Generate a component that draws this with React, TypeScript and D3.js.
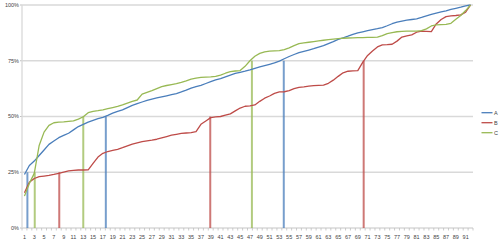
import React from "react";
import * as d3 from "d3";

const seriesNames = ["A", "B", "C"];
const seriesColors = ["#4A7EBB", "#BE4B48", "#98B954"];

const seriesA = [24, 28, 30, 32.5, 35, 37.5, 39, 40.5, 41.5, 42.5, 44, 45.5, 46.5, 47.5, 48.3, 49, 49.6, 50.5, 51.5, 52.3, 53, 54, 55, 55.8, 56.5, 57.2, 57.8, 58.3, 58.8, 59.3, 59.8, 60.3, 61, 61.8, 62.7, 63.4, 64, 64.8, 65.6, 66.4, 67, 67.8, 68.6, 69.3, 69.8, 70.3, 70.9, 71.6, 72.2, 72.8, 73.4, 74, 74.8, 75.9, 76.9, 77.8, 78.6, 79.2, 79.8, 80.4, 81.1, 81.8, 82.7, 83.6, 84.6, 85.3, 86, 86.8, 87.5, 88, 88.5, 89, 89.4, 89.9, 90.7, 91.6, 92.3, 92.8, 93.2, 93.5, 93.8, 94.4, 95.1, 95.8, 96.4, 96.9, 97.4, 98, 98.5, 99, 99.6, 100];

const seriesB = [15.8, 20.5, 22.2, 23, 23.3, 23.6, 24, 24.5, 25.1, 25.6, 25.8, 26, 26, 26.1, 29, 31.8, 33.5, 34.3, 34.8, 35.3, 36, 36.8, 37.6, 38.2, 38.7, 39.1, 39.4, 39.8, 40.4, 41, 41.6, 42, 42.4, 42.6, 42.8, 43.2, 46.5, 48, 49.5, 49.8, 50, 50.6, 51.2, 52.5, 53.8, 54.6, 54.8, 55.2, 56.8, 58.2, 59.2, 60.4, 61, 61.1, 61.6, 62.5, 63.1, 63.3, 63.6, 63.8, 64, 64.1, 64.9, 66.3, 68, 69.6, 70.3, 70.5, 70.6, 74.3, 77.4, 79.4, 81.2, 82.1, 82.2, 82.4, 83.8, 85.6, 86.2, 86.6, 87.8, 88.3, 88.2, 88.1, 91.5, 93.5, 94.8, 95.1, 95.3, 95.6, 96.8, 100];

const seriesC = [14.3, 20, 24.5, 37, 43, 46, 47.2, 47.5, 47.6, 47.8, 48, 48.8, 49.9, 51.7, 52.3, 52.6, 53, 53.5, 54, 54.5, 55.2, 56, 56.8, 57.4, 60, 60.8, 61.6, 62.5, 63.4, 63.9, 64.3, 64.7, 65.3, 66, 66.8, 67.2, 67.5, 67.7, 67.8, 68, 68.6, 69.4, 70.1, 70.4, 70.6, 72.5, 75, 77, 78.3, 79, 79.3, 79.4, 79.5, 80, 80.8, 81.8, 82.7, 83, 83.3, 83.6, 83.9, 84.2, 84.5, 84.7, 84.9, 85.1, 85.2, 85.3, 85.4, 85.4, 85.5, 85.5, 85.6, 86.3, 87.2, 87.6, 88, 88.2, 88.3, 88.3, 88.3, 88.5, 89.3, 90.6, 91.1, 91.2, 91.3, 91.8, 93.6, 95.3, 97.5, 100];

// quartile markers: [category position, value]
const markersA = [[1.6, 25], [17.6, 50], [53.9, 75]];
const markersB = [[8.1, 25], [38.9, 50], [70.2, 75]];
const markersC = [[3.1, 25], [13.0, 50], [47.4, 75]];

const yTicks = [0, 25, 50, 75, 100];
const categories = d3.range(1, 93);
const xTickLabels = d3.range(1, 92, 2);

const W = 500, H = 245;
const left = 22, right = 473, top = 5, bottom = 228;

export default function App() {
  const x = d3.scaleLinear().domain([0.5, 92.5]).range([left, right]);
  const y = d3.scaleLinear().domain([0, 100]).range([bottom, top]);
  const allSeries = [seriesA, seriesB, seriesC];
  const allMarkers = [markersA, markersB, markersC];
  const line = d3.line<number>().x((_, i) => x(categories[i])).y((d) => y(d));
  const font = "'Liberation Sans', Arial, sans-serif";
  const boundaries = d3.range(0.5, 93, 1);

  return (
    <svg width={W} height={H} style={{ position: "absolute", left: 0, top: 0, background: "#fff" }}>
      {yTicks.map((t) => (
        <g key={t}>
          <line x1={left} x2={right} y1={y(t)} y2={y(t)} stroke="#D9D9D9" strokeWidth={1.3} />
          <line x1={left - 2} x2={left} y1={y(t)} y2={y(t)} stroke="#BFBFBF" strokeWidth={1} />
          <text x={left - 3} y={y(t)} dy="0.35em" textAnchor="end" fontSize={5.5} fontFamily={font} fill="#444">
            {t}%
          </text>
        </g>
      ))}
      <line x1={left} x2={left} y1={top} y2={bottom} stroke="#D9D9D9" strokeWidth={1.3} />
      {boundaries.map((b) => (
        <line key={b} x1={x(b)} x2={x(b)} y1={bottom} y2={bottom + 2.5} stroke="#BFBFBF" strokeWidth={0.8} />
      ))}
      {xTickLabels.map((c) => (
        <text key={c} x={x(c)} y={239} textAnchor="middle" fontSize={5.5} fontFamily={font} fill="#444">
          {c}
        </text>
      ))}
      {allMarkers.map((ms, si) =>
        ms.map(([c, v], k) => (
          <line key={`${si}-${k}`} x1={x(c)} x2={x(c)} y1={y(0)} y2={y(v)} stroke={seriesColors[si]} strokeOpacity={0.75} strokeWidth={2} />
        ))
      )}
      {allSeries.map((s, si) => (
        <path key={si} d={line(s) || ""} fill="none" stroke={seriesColors[si]} strokeWidth={1.3} strokeLinejoin="round" />
      ))}
      {seriesNames.map((n, i) => (
        <g key={n}>
          <line x1={481.5} x2={492.5} y1={112.7 + i * 10} y2={112.7 + i * 10} stroke={seriesColors[i]} strokeWidth={1.3} />
          <text x={494} y={112.7 + i * 10} dy="0.35em" fontSize={5.5} fontFamily={font} fill="#444">
            {n}
          </text>
        </g>
      ))}
    </svg>
  );
}
